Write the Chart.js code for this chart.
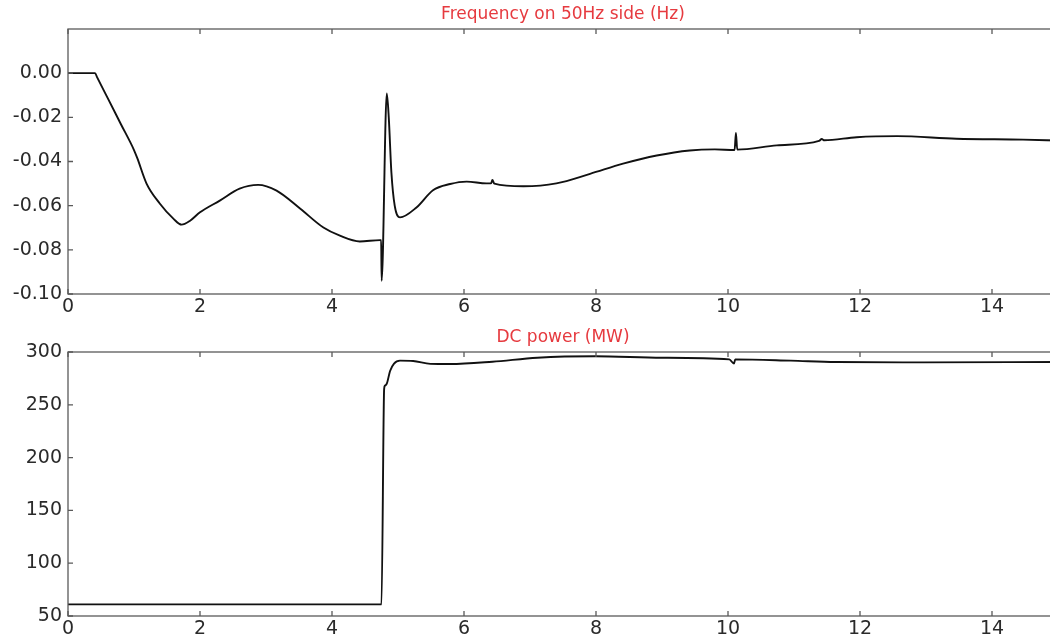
<!DOCTYPE html>
<html>
<head>
<meta charset="utf-8">
<script src="https://cdn.jsdelivr.net/npm/chart.js@4/dist/chart.umd.min.js"></script>
<style>
  html, body { margin: 0; padding: 0; background: #fff; overflow: hidden; }
  .panel { position: absolute; left: 0; width: 1060px; height: 320px; }
  #top { top: 0; }
  #bottom { top: 320px; }
</style>
</head>
<body>
<div class="panel" id="top"><canvas id="freq"></canvas></div>
<div class="panel" id="bottom"><canvas id="power"></canvas></div>
<script>
// Time axis (s)
const xTicks = [0, 2, 4, 6, 8, 10, 12, 14];

// Frequency deviation on the 50 Hz side (Hz)
const freqTime = [0, 0.41, 0.44, 0.6, 0.8, 1.0, 1.05, 1.19, 1.39, 1.6, 1.72, 1.85, 2.0, 2.3, 2.6, 2.88,
  3.16, 3.52, 3.87, 4.12, 4.42, 4.73, 4.745, 4.752, 4.83, 4.86, 4.9, 4.95, 5.03, 5.28, 5.53,
  5.79, 6.04, 6.34, 6.41, 6.43, 6.46, 6.9, 7.4, 7.91, 8.41, 8.92, 9.42, 9.8, 10.1, 10.12,
  10.14, 10.74, 11.38, 11.42, 11.46, 11.95, 12.56, 13.46, 14.47, 15.0];
const freqValue = [0, 0, -0.0018, -0.0112, -0.0230, -0.0348, -0.0385, -0.0500, -0.0590, -0.0660, -0.0686,
  -0.0668, -0.0630, -0.0577, -0.0523, -0.0506, -0.0532, -0.0614, -0.0699, -0.0736, -0.0762,
  -0.0756, -0.0756, -0.0940, -0.0092, -0.0200, -0.0450, -0.0600, -0.0653, -0.0608, -0.0530,
  -0.0502, -0.0491, -0.0499, -0.0499, -0.0484, -0.0500, -0.0512, -0.0499, -0.0456, -0.0410,
  -0.0373, -0.0350, -0.0345, -0.0348, -0.0271, -0.0346, -0.0327, -0.0307, -0.0298, -0.0304,
  -0.0290, -0.0285, -0.0297, -0.0301, -0.0305];

// DC power (MW)
const powerTime = [0, 4.75, 4.79, 4.80, 4.83, 4.88, 4.94, 5.03, 5.23, 5.49, 5.79, 6.43, 7.11,
  7.99, 9.0, 10.02, 10.09, 10.11, 10.95, 11.63, 12.97, 15.0];
const powerValue = [61, 61, 265, 268, 270, 282, 289, 291.8, 291.5, 288.8, 288.6, 290.8, 294.6,
  296, 294.6, 293, 289, 293, 291.8, 290.5, 290.2, 290.5];

const freqTicks = [0.00, -0.02, -0.04, -0.06, -0.08, -0.10];
const powerTicks = [50, 100, 150, 200, 250, 300];

const tickFont = { family: 'DejaVu Sans', size: 19 };
const tickColor = '#2a2a2a';
const frameColor = '#5a5a5a';
const titleColor = '#e63a3f';

// Draws the axes box with inward tick marks and the red panel title
const framePlugin = {
  id: 'frame',
  afterDraw(chart, args, opts) {
    const { ctx, chartArea: a, scales } = chart;
    ctx.save();
    ctx.strokeStyle = frameColor;
    ctx.lineWidth = 1.3;
    ctx.strokeRect(a.left, a.top, a.right - a.left, a.bottom - a.top);
    const len = 5;
    ctx.beginPath();
    scales.x.ticks.forEach(t => {
      const px = scales.x.getPixelForValue(t.value);
      ctx.moveTo(px, a.bottom); ctx.lineTo(px, a.bottom - len);
      ctx.moveTo(px, a.top); ctx.lineTo(px, a.top + len);
    });
    scales.y.ticks.forEach(t => {
      const py = scales.y.getPixelForValue(t.value);
      ctx.moveTo(a.left, py); ctx.lineTo(a.left + len, py);
      ctx.moveTo(a.right, py); ctx.lineTo(a.right - len, py);
    });
    ctx.stroke();
    ctx.fillStyle = titleColor;
    ctx.font = '17px "DejaVu Sans"';
    ctx.textAlign = 'center';
    ctx.textBaseline = 'middle';
    ctx.fillText(opts.text, (a.left + a.right) / 2, opts.y);
    ctx.restore();
  }
};

function makeChart(id, times, values, yMin, yMax, yTickValues, fmt, title, titleY, padTop, xHeight) {
  return new Chart(document.getElementById(id), {
    type: 'line',
    data: {
      datasets: [{
        data: times.map((t, i) => ({ x: t, y: values[i] })),
        borderColor: '#111',
        borderWidth: 1.9,
        pointRadius: 0,
        cubicInterpolationMode: 'monotone',
        fill: false
      }]
    },
    options: {
      responsive: true,
      maintainAspectRatio: false,
      animation: false,
      layout: { padding: { top: padTop, right: 2, left: 0, bottom: 0 } },
      plugins: {
        legend: { display: false },
        tooltip: { enabled: false },
        frame: { text: title, y: titleY }
      },
      scales: {
        x: {
          type: 'linear',
          min: 0, max: 15,
          border: { display: false },
          grid: { display: false, drawTicks: false },
          afterBuildTicks: s => { s.ticks = xTicks.map(v => ({ value: v })); },
          afterFit: s => { s.height = xHeight; },
          ticks: { font: tickFont, color: tickColor, padding: 2, maxRotation: 0,
                   callback: v => String(v) }
        },
        y: {
          min: yMin, max: yMax,
          border: { display: false },
          grid: { display: false, drawTicks: false },
          afterBuildTicks: s => { s.ticks = yTickValues.map(v => ({ value: v })); },
          afterFit: s => { s.width = 68; },
          ticks: { font: tickFont, color: tickColor, padding: 6, callback: fmt }
        }
      }
    },
    plugins: [framePlugin]
  });
}

makeChart('freq', freqTime, freqValue, -0.10, 0.02, freqTicks,
  v => v.toFixed(2).replace('-0.00', '0.00'),
  'Frequency on 50Hz side (Hz)', 15, 29, 26);

makeChart('power', powerTime, powerValue, 50, 300, powerTicks,
  v => String(Math.round(v)),
  'DC power (MW)', 18, 32, 24);
</script>
</body>
</html>
